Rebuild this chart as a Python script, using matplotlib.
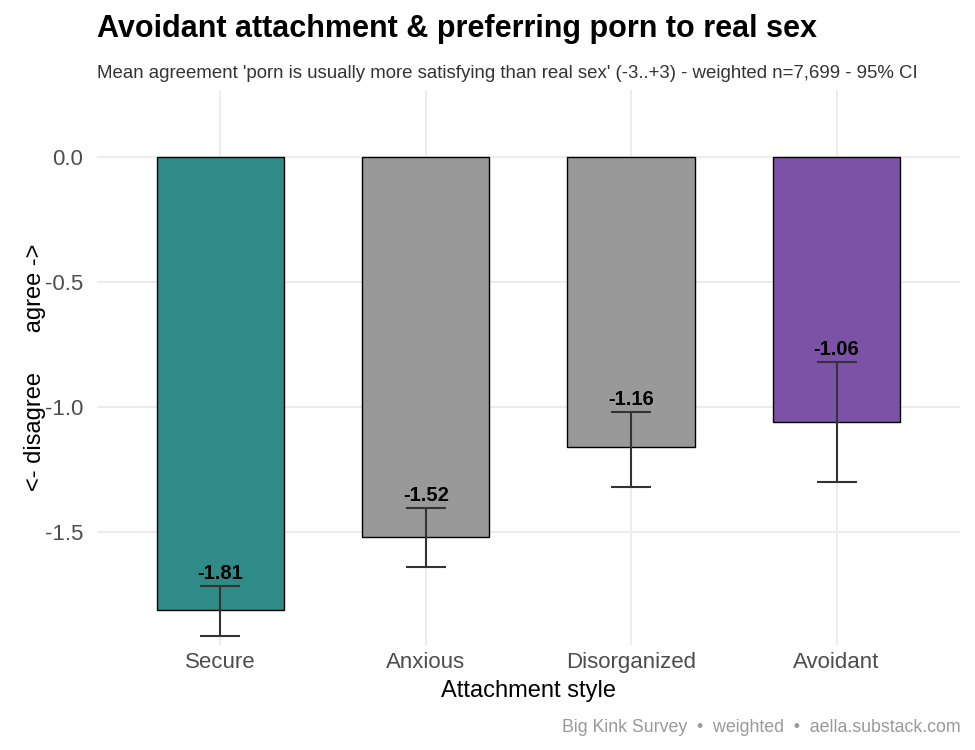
import numpy as np
import matplotlib
matplotlib.use("Agg")
import matplotlib.pyplot as plt

plt.rcParams['font.family'] = ['Liberation Sans', 'DejaVu Sans']

# data
styles = ["Secure", "Anxious", "Disorganized", "Avoidant"]
means = [-1.81, -1.52, -1.16, -1.06]
ci_low = [-1.915, -1.64, -1.32, -1.30]
ci_high = [-1.715, -1.405, -1.02, -0.82]
colors = ["#2E8B87", "#999999", "#999999", "#7B52A6"]

fig = plt.figure(figsize=(9.75, 7.5), dpi=100)
ax = fig.add_axes([0.0995, 0.14, 0.885, 0.74])

x = np.arange(len(styles))
means_a = np.array(means)
lo = means_a - np.array(ci_low)
hi = np.array(ci_high) - means_a

ax.bar(x, means, width=0.62, color=colors, edgecolor="black", linewidth=1.0, zorder=2)
ax.errorbar(x, means, yerr=[lo, hi], fmt="none", ecolor="#333333",
            elinewidth=1.5, capsize=14.5, capthick=1.5, zorder=3)

for xi, m, h in zip(x, means, ci_high):
    ax.annotate(f"{m:.2f}", (xi, h), xytext=(0, 2), textcoords="offset points",
                ha="center", va="bottom", fontsize=14.5, fontweight="bold", color="black", zorder=4)

ax.set_xlim(-0.6, 3.6)
ax.set_ylim(-1.952, 0.268)
ax.set_xticks(x)
ax.set_xticklabels(styles)
ax.set_yticks([0.0, -0.5, -1.0, -1.5])
ax.set_yticklabels(["0.0", "-0.5", "-1.0", "-1.5"])
ax.tick_params(axis="both", length=0, labelsize=16, colors="#4D4D4D")
ax.tick_params(axis="y", pad=10)
ax.tick_params(axis="x", pad=5)

ax.grid(True, color="#EBEBEB", linewidth=1.3, zorder=0)
ax.set_axisbelow(True)
for s in ax.spines.values():
    s.set_visible(False)

ax.set_xlabel("Attachment style", fontsize=17, color="black", labelpad=5)
ax.set_ylabel("<- disagree      agree ->", fontsize=17, color="black", labelpad=-1)

fig.text(0.0995, 0.961, "Avoidant attachment & preferring porn to real sex",
         fontsize=22, fontweight="bold", ha="left", va="center")
fig.text(0.0995, 0.902,
         "Mean agreement 'porn is usually more satisfying than real sex' (-3..+3) - weighted n=7,699 - 95% CI",
         fontsize=13.4, color="#333333", ha="left", va="center")
fig.text(0.985, 0.030, "Big Kink Survey  \u2022  weighted  \u2022  aella.substack.com",
         fontsize=12.8, color="#999999", ha="right", va="center")

fig.savefig("out.png", dpi=100, facecolor="white")
